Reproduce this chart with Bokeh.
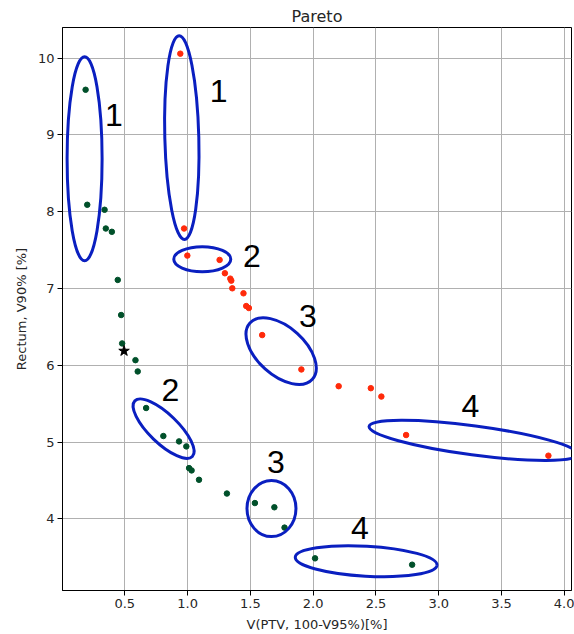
from bokeh.plotting import figure
from bokeh.models import ColumnDataSource, Range1d, FixedTicker, PrintfTickFormatter
from bokeh.core.properties import value
from bokeh.embed import file_html
from bokeh.resources import INLINE
import math

# ---- data ----
green_x = [0.188, 0.201, 0.339, 0.349, 0.397, 0.444, 0.471, 0.479, 0.585, 0.603,
           0.670, 0.807, 0.932, 0.990, 1.012, 1.032, 1.091, 1.313, 1.536, 1.691,
           1.772, 2.015, 2.788]
green_y = [9.589, 8.091, 8.026, 7.782, 7.739, 7.112, 6.655, 6.285, 6.067, 5.920,
           5.444, 5.079, 5.009, 4.944, 4.661, 4.631, 4.509, 4.330, 4.206, 4.151,
           3.886, 3.486, 3.403]

red_x = [0.942, 0.972, 0.998, 1.255, 1.297, 1.340, 1.348, 1.356, 1.445, 1.467,
         1.488, 1.594, 1.906, 2.203, 2.459, 2.543, 2.740, 3.873]
red_y = [10.059, 7.782, 7.429, 7.373, 7.199, 7.129, 7.103, 7.003, 6.938, 6.772,
         6.746, 6.394, 5.946, 5.728, 5.702, 5.593, 5.092, 4.823]

star_x = [0.494]
star_y = [6.187]

x_ticks = [0.5, 1.0, 1.5, 2.0, 2.5, 3.0, 3.5, 4.0]
y_ticks = [4, 5, 6, 7, 8, 9, 10]

# annotation ellipses (centre in data units, size in screen px, angle in degrees)
ell_x = [0.180, 0.954, 1.117, 0.809, 1.745, 1.668, 3.278, 2.422]
ell_y = [8.690, 8.966, 7.382, 5.175, 6.185, 4.134, 5.022, 3.449]
ell_w = [35, 34, 57, 80, 84, 49, 211, 142]
ell_h = [204, 204, 25, 29, 48, 56, 29, 30]
ell_a = [0, 1.5, 0, -44, -42, 0, -7.6, -3.2]

# annotation numbers
lab_text = ["1", "1", "2", "2", "3", "3", "4", "4"]
lab_x = [0.413, 1.247, 1.512, 0.863, 1.959, 1.703, 3.251, 2.372]
lab_y = [9.231, 9.541, 7.395, 5.653, 6.620, 4.718, 5.444, 3.856]

# ---- figure ----
p = figure(width=574, height=634, output_backend="svg", toolbar_location=None,
           x_range=Range1d(0.004, 4.057), y_range=Range1d(3.067, 10.40),
           min_border_left=62, min_border_right=3, min_border_top=27,
           min_border_bottom=42)

p.title.text = "Pareto"
p.title.align = "center"
p.title.vertical_align = "top"
p.title.text_font = "DejaVu Sans"
p.title.text_font_size = "16px"
p.title.text_font_style = "normal"
p.title.text_color = "#262626"
p.title.standoff = 0

p.outline_line_color = "black"
p.outline_line_alpha = 1
p.outline_line_width = 1
p.background_fill_color = "white"
p.border_fill_color = "white"

p.xaxis.ticker = FixedTicker(ticks=x_ticks)
p.yaxis.ticker = FixedTicker(ticks=y_ticks)
p.xaxis.formatter = PrintfTickFormatter(format="%.1f")
p.xaxis.axis_label = "V(PTV, 100-V95%)[%]"
p.yaxis.axis_label = "Rectum, V90% [%]"
for ax in (p.xaxis, p.yaxis):
    ax.axis_label_text_font = "DejaVu Sans"
    ax.axis_label_text_font_size = "13px"
    ax.axis_label_text_font_style = "normal"
    ax.axis_label_text_color = "#262626"
    ax.major_label_text_font = "DejaVu Sans"
    ax.major_label_text_font_size = "13px"
    ax.major_label_text_color = "#262626"
    ax.major_tick_out = 5
    ax.major_tick_in = 0
    ax.minor_tick_out = 0
    ax.minor_tick_in = 0
    ax.axis_line_color = "black"
    ax.major_tick_line_color = "black"
    ax.axis_label_standoff = 6
    ax.major_label_standoff = 3

p.grid.grid_line_color = "#b0b0b0"
p.grid.grid_line_width = 1

p.scatter(green_x, green_y, size=5.5, color="#00502a", marker="circle")
p.scatter(red_x, red_y, size=5.5, color="#ff2a0a", marker="circle")
p.scatter(star_x, star_y, size=11, color="black", marker="star")

esrc = ColumnDataSource(dict(x=ell_x, y=ell_y, w=ell_w, h=ell_h,
                             a=[math.radians(a) for a in ell_a]))
p.ellipse(x="x", y="y", width="w", height="h", angle="a", source=esrc,
          width_units="screen", height_units="screen",
          fill_color=None, line_color="#0a1fc0", line_width=3)

lsrc = ColumnDataSource(dict(x=lab_x, y=lab_y, t=lab_text))
p.text(x="x", y="y", text="t", source=lsrc, text_font=value("Liberation Sans"),
       text_font_size="32px", text_align="center", text_baseline="alphabetic",
       y_offset=-2, text_color="black")

open("out.html", "w").write(file_html(p, INLINE))
